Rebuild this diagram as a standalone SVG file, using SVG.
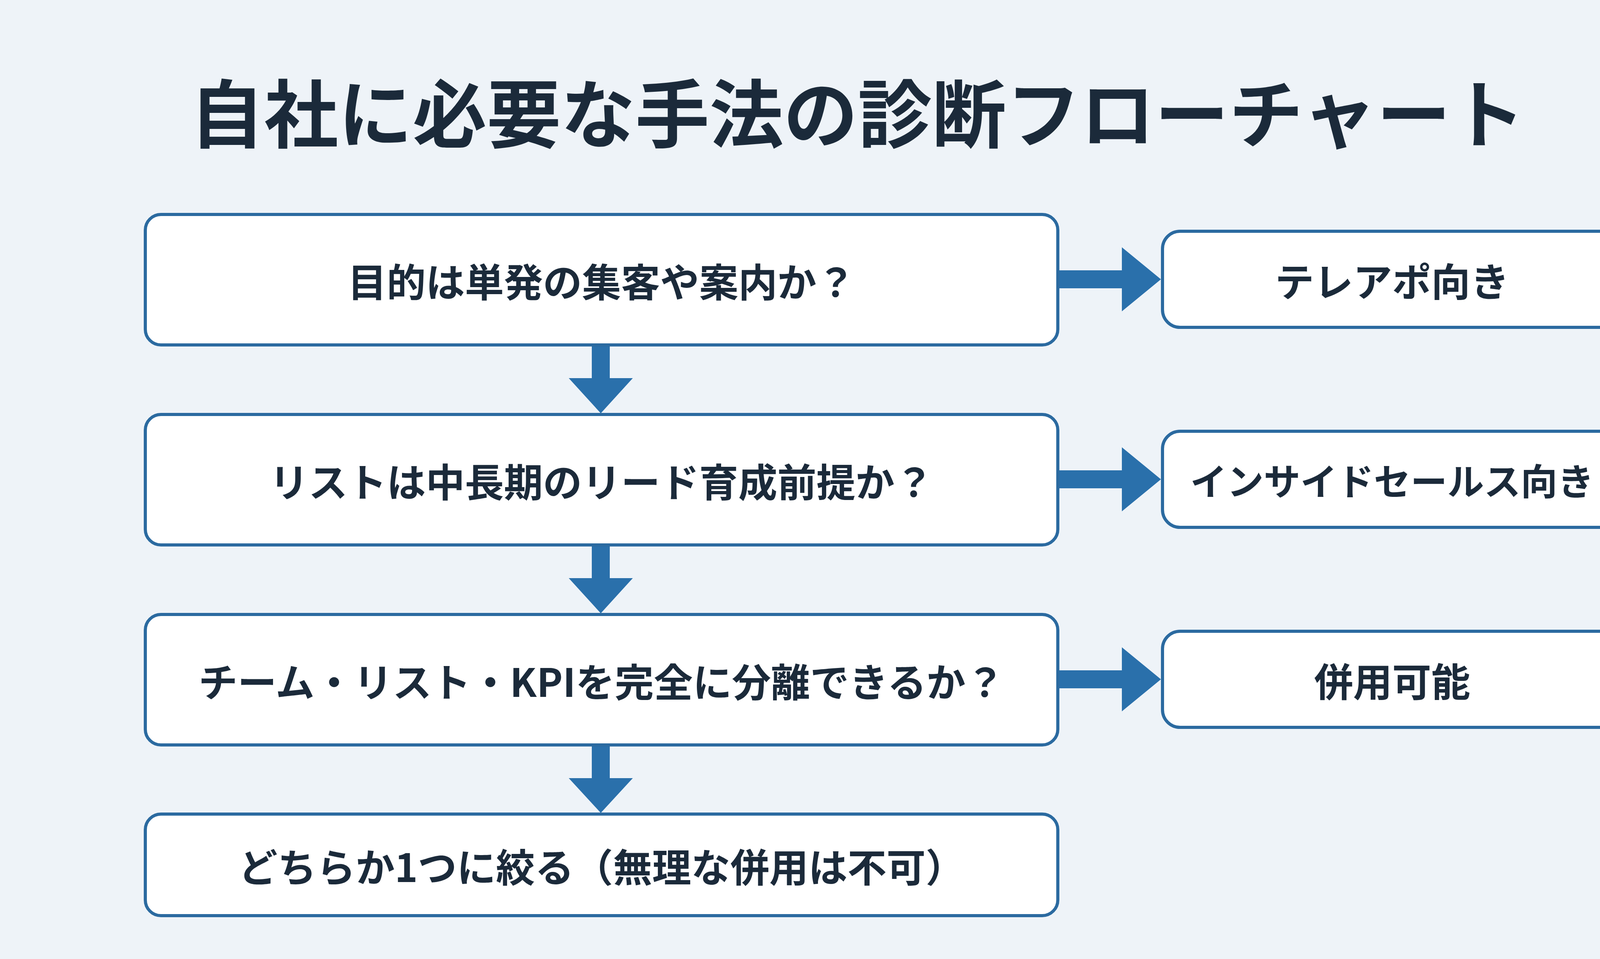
<svg xmlns="http://www.w3.org/2000/svg" width="4400" height="2455" viewBox="0 0 4400 2455">
<style>
.box{fill:#fff;stroke:#2b6aa0;stroke-width:8}
.t{font-family:"Noto Sans CJK JP","Liberation Sans",sans-serif;font-weight:bold;fill:#1b2a3a;text-anchor:middle;dominant-baseline:central}
.q{font-size:100px}
.arr{fill:#2a70ab}
</style>
<rect width="4400" height="2455" fill="#eef3f8"/>
<text class="t" x="2195" y="280" font-size="190">自社に必要な手法の診断フローチャート</text>
<g id="q1"><rect class="box" x="372" y="549" width="2336" height="334" rx="40"/><text class="t q" x="1540" y="716">目的は単発の集客や案内か？</text></g>
<g id="q2"><rect class="box" x="372" y="1061" width="2336" height="334" rx="40"/><text class="t q" x="1540" y="1228">リストは中長期のリード育成前提か？</text></g>
<g id="q3"><rect class="box" x="372" y="1573" width="2336" height="334" rx="40"/><text class="t q" x="1540" y="1740">チーム・リスト・KPIを完全に分離できるか？</text></g>
<g id="end"><rect class="box" x="372" y="2084" width="2336" height="260" rx="40"/><text class="t q" x="1540" y="2214">どちらか1つに絞る（無理な併用は不可）</text></g>
<g id="r1"><rect class="box" x="2976" y="592" width="1176" height="246" rx="45"/><text class="t q" x="3564" y="715">テレアポ向き</text></g>
<g id="r2"><rect class="box" x="2976" y="1104" width="1176" height="246" rx="45"/><text class="t" font-size="94" x="3564" y="1227">インサイドセールス向き</text></g>
<g id="r3"><rect class="box" x="2976" y="1616" width="1176" height="246" rx="45"/><text class="t q" x="3564" y="1739">併用可能</text></g>
<g id="connectors" class="arr">
<polygon points="2712,692 2872,692 2872,633 2972,715 2872,797 2872,738 2712,738"/>
<polygon points="2712,1204 2872,1204 2872,1145 2972,1227 2872,1309 2872,1250 2712,1250"/>
<polygon points="2712,1716 2872,1716 2872,1657 2972,1739 2872,1821 2872,1762 2712,1762"/>
<polygon points="1515,887 1561,887 1561,968 1620,968 1538,1058 1456,968 1515,968"/>
<polygon points="1515,1399 1561,1399 1561,1480 1620,1480 1538,1570 1456,1480 1515,1480"/>
<polygon points="1515,1911 1561,1911 1561,1992 1620,1992 1538,2081 1456,1992 1515,1992"/>
</g>
</svg>
